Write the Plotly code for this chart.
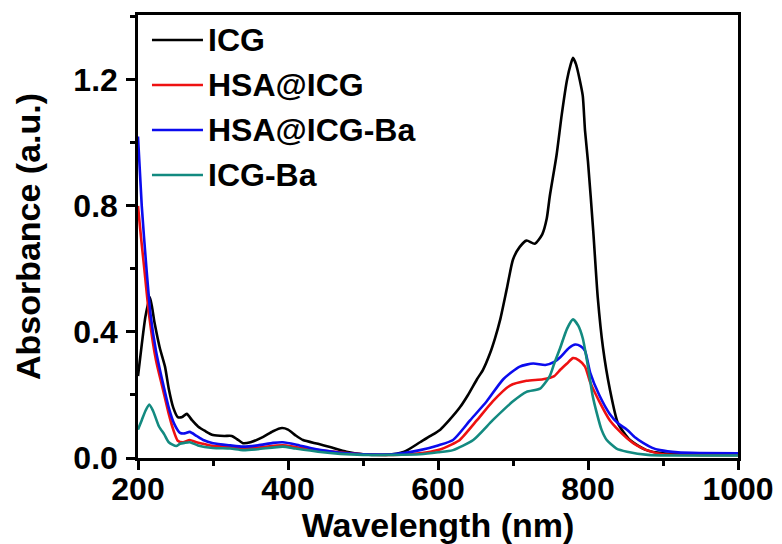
import plotly.graph_objects as go

# ---------------- data ----------------
series_names = ["ICG", "HSA@ICG", "HSA@ICG-Ba", "ICG-Ba"]
series_colors = ["#000000", "#ee1111", "#0b0bee", "#138a80"]

icg_nm = [200, 205, 210, 216, 222, 229, 236, 241, 247, 253, 259, 265, 272, 280, 290, 300, 315, 325, 332, 340, 350,
          367, 380, 392, 400, 410, 420, 440, 456, 478, 500, 530, 555, 576, 590, 603, 615, 629, 640, 652, 660, 669,
          676, 683, 692, 700, 709, 718, 729, 739, 745, 749, 758, 765, 772, 777, 780, 784, 789, 793, 796, 800, 807,
          813, 820, 829, 840, 856, 878, 900, 950, 1000]
icg_abs = [0.26, 0.36, 0.45, 0.51, 0.43, 0.35, 0.29, 0.22, 0.16, 0.13, 0.13, 0.14, 0.12, 0.10, 0.085, 0.073, 0.07,
           0.07, 0.06, 0.047, 0.05, 0.067, 0.085, 0.095, 0.09, 0.072, 0.057, 0.045, 0.035, 0.02, 0.012, 0.01, 0.02,
           0.05, 0.07, 0.09, 0.12, 0.16, 0.20, 0.25, 0.28, 0.33, 0.38, 0.44, 0.54, 0.63, 0.67, 0.69, 0.68, 0.71,
           0.76, 0.83, 0.96, 1.09, 1.20, 1.25, 1.27, 1.25, 1.20, 1.15, 1.04, 0.94, 0.72, 0.51, 0.35, 0.22, 0.11,
           0.057, 0.025, 0.015, 0.01, 0.01]

hsa_icg_nm = [200, 204, 208, 215, 224, 233, 241, 247, 253, 260, 269, 278, 287, 300, 323, 340, 360, 393, 410, 440,
              470, 500, 540, 576, 600, 620, 629, 652, 673, 696, 718, 740, 755, 763, 772, 780, 788, 796, 803, 815,
              829, 840, 852, 865, 878, 900, 950, 1000]
hsa_icg_abs = [0.80, 0.70, 0.61, 0.45, 0.31, 0.22, 0.14, 0.09, 0.055, 0.05, 0.057, 0.05, 0.045, 0.038, 0.036, 0.03,
               0.033, 0.04, 0.035, 0.025, 0.018, 0.012, 0.01, 0.015, 0.025, 0.045, 0.057, 0.12, 0.18, 0.23, 0.245,
               0.25, 0.26, 0.28, 0.30, 0.317, 0.31, 0.29, 0.24, 0.18, 0.12, 0.09, 0.063, 0.04, 0.025, 0.012, 0.01,
               0.01]

hsa_icg_ba_nm = [200, 205, 211, 217, 224, 233, 241, 248, 256, 262, 269, 278, 287, 300, 323, 340, 360, 380, 393,
                 410, 433, 460, 478, 500, 540, 576, 600, 620, 643, 665, 687, 709, 727, 743, 755, 763, 775, 783, 790,
                 796, 803, 815, 829, 840, 852, 863, 874, 885, 896, 920, 950, 1000]
hsa_icg_ba_abs = [1.02, 0.80, 0.61, 0.45, 0.34, 0.24, 0.16, 0.11, 0.08, 0.078, 0.083, 0.07, 0.057, 0.047, 0.04,
                  0.036, 0.04, 0.048, 0.05, 0.043, 0.03, 0.02, 0.015, 0.012, 0.012, 0.025, 0.04, 0.057, 0.12, 0.18,
                  0.25, 0.29, 0.30, 0.295, 0.305, 0.32, 0.35, 0.36, 0.355, 0.34, 0.27, 0.20, 0.14, 0.11, 0.09,
                  0.065, 0.047, 0.033, 0.025, 0.018, 0.016, 0.015]

icg_ba_nm = [200, 205, 210, 215, 220, 228, 235, 241, 251, 256, 262, 269, 280, 300, 323, 340, 360, 393, 410, 440,
             470, 500, 540, 576, 600, 620, 647, 673, 700, 718, 736, 749, 755, 763, 772, 780, 787, 793, 800, 806,
             812, 818, 825, 838, 852, 880, 1000]
icg_ba_abs = [0.09, 0.12, 0.15, 0.17, 0.15, 0.10, 0.075, 0.05, 0.038, 0.045, 0.048, 0.05, 0.04, 0.032, 0.03,
              0.025, 0.028, 0.036, 0.03, 0.02, 0.013, 0.01, 0.01, 0.012, 0.018, 0.025, 0.057, 0.12, 0.18, 0.21,
              0.22, 0.26, 0.30, 0.35, 0.41, 0.44, 0.42, 0.38, 0.29, 0.20, 0.14, 0.09, 0.057, 0.03, 0.02, 0.01, 0.008]

x_tick_vals = [200, 400, 600, 800, 1000]
y_tick_vals = [0.0, 0.4, 0.8, 1.2]
x_title = "Wavelength (nm)"
y_title = "Absorbance (a.u.)"

# ---------------- figure ----------------
xs = [icg_nm, hsa_icg_nm, hsa_icg_ba_nm, icg_ba_nm]
ys = [icg_abs, hsa_icg_abs, hsa_icg_ba_abs, icg_ba_abs]

FONT = "Arial, 'Liberation Sans', sans-serif"
fig = go.Figure()
for name, color, x, y in zip(series_names, series_colors, xs, ys):
    fig.add_trace(go.Scatter(x=x, y=y, name=name, mode="lines",
                             line=dict(color=color, width=2.6, shape="spline", smoothing=0.6),
                             showlegend=False))

# custom legend (lines + text) in the upper-left corner of the plot
row0_px, row_gap_px, plot_h_px = 25, 45, 443
for i, (name, color) in enumerate(zip(series_names, series_colors)):
    yy = 1 - (row0_px + i * row_gap_px) / plot_h_px
    fig.add_shape(type="line", xref="paper", yref="paper", x0=0.0233, x1=0.1083, y0=yy, y1=yy,
                  line=dict(color=color, width=2.6))
    fig.add_annotation(xref="paper", yref="paper", x=0.113, y=yy, text=name, showarrow=False,
                       xanchor="left", yanchor="middle",
                       font=dict(family=FONT, size=32, color="black", weight="bold"))

axis_common = dict(showline=True, linecolor="black", linewidth=2.5, mirror=True, ticks="outside",
                   ticklen=9, tickwidth=2.5, tickcolor="black", showgrid=False, zeroline=False,
                   tickfont=dict(family=FONT, size=32, color="black", weight="bold"))

fig.update_xaxes(range=[200, 1000], tickvals=x_tick_vals, ticktext=[str(v) for v in x_tick_vals],
                 minor=dict(ticks="outside", ticklen=5, tickwidth=2.5, tickcolor="black", dtick=100,
                            tick0=200, showgrid=False),
                 title=dict(text=x_title, standoff=27,
                            font=dict(family=FONT, size=34, color="black", weight="bold")),
                 ticklabelstandoff=-8, **axis_common)
fig.update_yaxes(range=[0, 1.406], tickvals=y_tick_vals, ticktext=[f"{v:.1f}" for v in y_tick_vals],
                 minor=dict(ticks="outside", ticklen=5, tickwidth=2.5, tickcolor="black", dtick=0.2,
                            tick0=0, showgrid=False),
                 title=dict(text=y_title, standoff=23,
                            font=dict(family=FONT, size=34, color="black", weight="bold")),
                 ticklabelstandoff=2, **axis_common)

# the page adds an 8px body margin on the left/top, so the figure is 8px smaller than the window
fig.update_layout(width=774, height=536, margin=dict(l=130, r=44, t=7, b=86, autoexpand=False),
                  paper_bgcolor="white", plot_bgcolor="white", showlegend=False)

fig.write_html("out.html")
